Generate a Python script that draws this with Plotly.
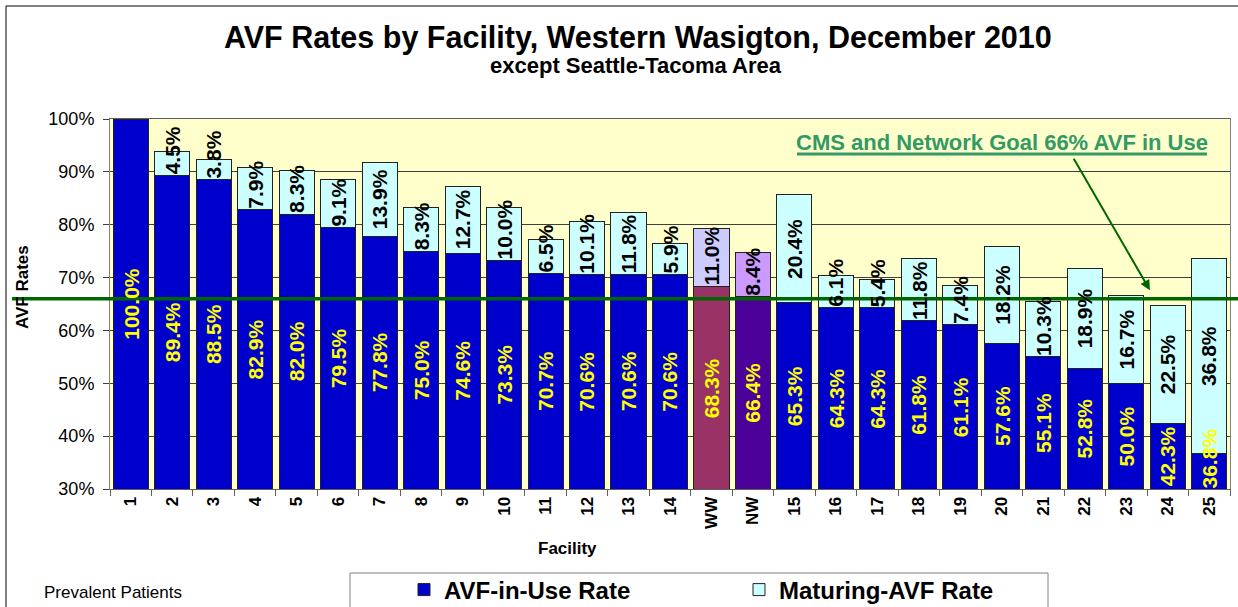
import plotly.graph_objects as go

# ---------------- data ----------------
facilities = ["1", "2", "3", "4", "5", "6", "7", "8", "9", "10", "11", "12", "13", "14",
              "WW", "NW", "15", "16", "17", "18", "19", "20", "21", "22", "23", "24", "25"]
avf_in_use = [100.0, 89.4, 88.5, 82.9, 82.0, 79.5, 77.8, 75.0, 74.6, 73.3, 70.7, 70.6, 70.6, 70.6,
              68.3, 66.4, 65.3, 64.3, 64.3, 61.8, 61.1, 57.6, 55.1, 52.8, 50.0, 42.3, 36.8]
maturing = [0.0, 4.5, 3.8, 7.9, 8.3, 9.1, 13.9, 8.3, 12.7, 10.0, 6.5, 10.1, 11.8, 5.9,
            11.0, 8.4, 20.4, 6.1, 5.4, 11.8, 7.4, 18.2, 10.3, 18.9, 16.7, 22.5, 36.8]
goal = 66.0
y_ticks = [30, 40, 50, 60, 70, 80, 90, 100]

# ---------------- styles ----------------
FONT = "Liberation Sans, Arial, sans-serif"
BLUE, CYAN = "#0000CC", "#CCFFFF"
SPECIAL_BOTTOM = {"WW": "#993366", "NW": "#4B0099"}
SPECIAL_TOP = {"WW": "#CCCCFF", "NW": "#CC99FF"}
bottom_colors = [SPECIAL_BOTTOM.get(f, BLUE) for f in facilities]
top_colors = [SPECIAL_TOP.get(f, CYAN) for f in facilities]
Y_MIN, Y_MAX = y_ticks[0], y_ticks[-1]
LBL_SIZE = 21
CHAR_W = {".": 0.278, "%": 0.889}   # Arial-bold advance widths (em); digits 0.556

W, H = 1238, 607
ML, MR, MT, MB = 110, 8, 119, 118
PW, PH = W - ML - MR, H - MT - MB
PX_PER_UNIT = PH / (Y_MAX - Y_MIN)


def px(x):   # pixel -> paper x
    return (x - ML) / PW


def py(y):   # pixel -> paper y
    return (H - MB - y) / PH


def text_len(s, size):
    return sum(CHAR_W.get(c, 0.556) for c in s) * size


def seg_label(i, base, span, text, color):
    """Rotated label centred in its segment, or sitting on the segment base if it does not fit."""
    L = text_len(text, LBL_SIZE)
    d = dict(x=i, xref="x", yref="y", text=text, showarrow=False, textangle=-90,
             xanchor="center", yanchor="middle",
             font=dict(family=FONT, size=LBL_SIZE, color=color, weight="bold"))
    if span * PX_PER_UNIT >= L + 4:
        d.update(y=base + span / 2)
    else:
        d.update(y=base, yshift=L / 2 + 1)
    return d


fig = go.Figure()
fig.add_trace(go.Bar(
    x=facilities, y=avf_in_use, name="AVF-in-Use Rate",
    marker=dict(color=bottom_colors, line=dict(color="#222222", width=1)),
))
fig.add_trace(go.Bar(
    x=facilities, y=maturing, name="Maturing-AVF Rate",
    marker=dict(color=top_colors, line=dict(color="#222222", width=1)),
))

annotations = []
for i, (v, m) in enumerate(zip(avf_in_use, maturing)):
    annotations.append(seg_label(i, Y_MIN, v - Y_MIN, f"{v:.1f}%", "#FFFF00"))
    if m > 0:
        annotations.append(seg_label(i, v, m, f"{m:.1f}%", "#000000"))

# titles
annotations += [
    dict(text="<b>AVF Rates by Facility, Western Wasigton, December 2010</b>",
         xref="paper", yref="paper", x=px(638), y=py(37), showarrow=False,
         xanchor="center", yanchor="middle", font=dict(family=FONT, size=30.5, color="#000")),
    dict(text="<b>except Seattle-Tacoma Area</b>",
         xref="paper", yref="paper", x=px(636), y=py(66), showarrow=False,
         xanchor="center", yanchor="middle", font=dict(family=FONT, size=22, color="#000")),
    dict(text="<b>AVF Rates</b>", xref="paper", yref="paper", x=px(22), y=py(287),
         showarrow=False, textangle=-90, xanchor="center", yanchor="middle",
         font=dict(family=FONT, size=17, color="#000")),
    dict(text="<b>Facility</b>", xref="paper", yref="paper", x=px(567), y=py(548),
         showarrow=False, xanchor="center", yanchor="middle",
         font=dict(family=FONT, size=17, color="#000")),
    dict(text="Prevalent Patients", xref="paper", yref="paper", x=px(42), y=py(592),
         showarrow=False, xanchor="left", yanchor="middle",
         font=dict(family=FONT, size=17, color="#000")),
    dict(text="<b>CMS and Network Goal 66% AVF in Use</b>", xref="paper", yref="paper",
         x=px(1002), y=py(142), showarrow=False, xanchor="center", yanchor="middle",
         font=dict(family=FONT, size=22, color="#339966")),
    # arrow
    dict(text="", xref="x", yref="y", x=24.57, y=67.6, ax=-77, ay=-133,
         showarrow=True, arrowhead=2, arrowsize=1, arrowwidth=2, arrowcolor="#006600"),
]

shapes = [
    # outer chart border
    dict(type="rect", xref="paper", yref="paper", x0=px(6), x1=px(1400), y0=py(6), y1=py(800),
         line=dict(color="#000", width=1), fillcolor="rgba(0,0,0,0)", layer="below"),
    # goal line
    dict(type="line", xref="paper", yref="y", x0=px(12), x1=px(1245), y0=goal, y1=goal,
         line=dict(color="#006600", width=3.5), layer="above"),
    # underline of goal text
    dict(type="line", xref="paper", yref="paper", x0=px(797), x1=px(1207), y0=py(154), y1=py(154),
         line=dict(color="#339966", width=3)),
    # legend box
    dict(type="rect", xref="paper", yref="paper", x0=px(350), x1=px(1048), y0=py(573), y1=py(640),
         line=dict(color="#808080", width=1), fillcolor="rgba(0,0,0,0)"),
]

fig.update_layout(
    width=W, height=H,
    margin=dict(l=ML, r=MR, t=MT, b=MB, pad=0, autoexpand=False),
    barmode="stack", bargap=0.155,
    paper_bgcolor="white", plot_bgcolor="#FFFFCC",
    font=dict(family=FONT, color="#000"),
    showlegend=True,
    legend=dict(orientation="h", x=px(404), y=py(590), xanchor="left", yanchor="middle",
                font=dict(family=FONT, size=24, color="#000", weight="bold"),
                bgcolor="rgba(0,0,0,0)", borderwidth=0,
                entrywidth=290, entrywidthmode="pixels", traceorder="normal"),
    annotations=annotations, shapes=shapes,
    xaxis=dict(type="category", tickangle=-90, tickson="boundaries",
               ticks="outside", ticklen=6, tickcolor="#606060",
               showline=True, linecolor="#606060", linewidth=1, mirror=True,
               tickfont=dict(family=FONT, size=17, color="#000", weight="bold"),
               showgrid=False, automargin=False),
    yaxis=dict(range=[Y_MIN, Y_MAX], tickvals=y_ticks, ticktext=[f"{t}%" for t in y_ticks],
               ticks="outside", ticklen=6, tickcolor="#404040", ticklabelstandoff=5,
               showline=True, linecolor="#808080", linewidth=1, mirror=True,
               showgrid=True, gridcolor="#404040", gridwidth=1,
               tickfont=dict(family=FONT, size=18, color="#000"), zeroline=False,
               automargin=False),
)

fig.write_html("out.html", config={"displayModeBar": False},
               post_script="document.body.style.margin='0';document.body.style.overflow='hidden';")
